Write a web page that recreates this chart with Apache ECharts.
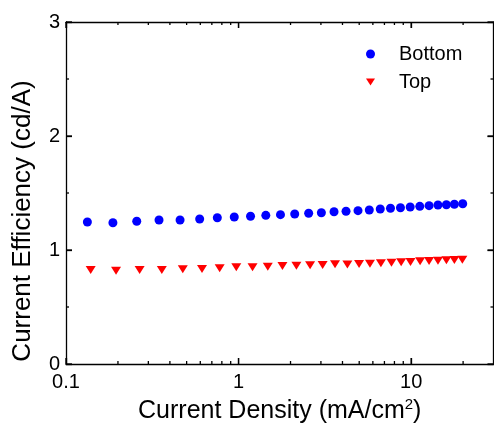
<!DOCTYPE html>
<html><head><meta charset="utf-8">
<script src="https://cdn.jsdelivr.net/npm/echarts@6/dist/echarts.min.js"></script>
<style>html,body{margin:0;padding:0;background:#fff}#c{width:494px;height:429px}</style>
</head><body><div id="c"></div>
<script>
// Current density (mA/cm2) and current efficiency (cd/A)
const bottomX = [0.133,0.187,0.257,0.346,0.458,0.595,0.753,0.944,1.173,1.438,1.749,2.115,2.547,3.018,3.574,4.194,4.92,5.72,6.62,7.59,8.67,9.87,11.22,12.7,14.3,16.0,17.8,19.9];
const bottomY = [1.246,1.239,1.252,1.263,1.263,1.272,1.283,1.289,1.296,1.304,1.310,1.316,1.322,1.327,1.336,1.340,1.345,1.351,1.360,1.366,1.371,1.377,1.383,1.389,1.395,1.397,1.401,1.406];
const topX = [0.139,0.195,0.267,0.359,0.475,0.614,0.777,0.970,1.205,1.476,1.795,2.163,2.596,3.07,3.62,4.27,4.99,5.77,6.68,7.69,8.75,9.91,11.27,12.7,14.3,16.0,17.8,19.8];
const topY = [0.825,0.818,0.825,0.825,0.831,0.833,0.839,0.848,0.848,0.854,0.860,0.862,0.866,0.868,0.875,0.873,0.877,0.880,0.883,0.889,0.892,0.895,0.901,0.904,0.906,0.910,0.912,0.915];
const seriesNames = ['Bottom', 'Top'];
const xRange = [0.1, 30];
const yRange = [0, 3];
const xMajorTicks = [0.1, 1, 10];
const xMinorTicks = [0.2,0.3,0.4,0.5,0.6,0.7,0.8,0.9,2,3,4,5,6,7,8,9,20];
const yMajorTicks = [0, 1, 2, 3];
const yMinorTicks = [0.5, 1.5, 2.5];
const xTitle = 'Current Density (mA/cm{sup|2})';
const yTitle = 'Current Efficiency (cd/A)';

const FONT = 'Liberation Sans';
const MAJOR = 6, MINOR = 3;
const chart = echarts.init(document.getElementById('c'));
function ls() { return {color: '#000', width: 1.3}; }
const xBase = {type: 'log', logBase: 10, min: xRange[0], max: xRange[1], splitLine: {show: false}};
const yBase = {type: 'value', min: yRange[0], max: yRange[1], interval: 1, splitLine: {show: false}};
function lineAxis(base, pos, ticks) {
  const t = {show: true, inside: true, length: MAJOR, lineStyle: ls()};
  if (ticks) t.customValues = ticks;
  return Object.assign({}, base, {position: pos, axisLine: {show: true, onZero: false, lineStyle: ls()},
    axisTick: t, axisLabel: {show: false}});
}
const xAxes = [
  Object.assign(lineAxis(xBase, 'bottom', xMajorTicks), {
    axisLabel: {show: true, customValues: xMajorTicks, fontFamily: FONT, fontSize: 20, color: '#000', margin: 8,
      formatter: v => String(+Number(v).toPrecision(3))},
    name: xTitle, nameLocation: 'middle', nameGap: 33,
    nameTextStyle: {fontFamily: FONT, fontSize: 25, color: '#000',
      rich: {sup: {fontFamily: FONT, fontSize: 15, color: '#000', padding: [0, 0, 13, 0]}}}
  }),
  lineAxis(xBase, 'top', xMajorTicks)
];
const yAxes = [
  Object.assign(lineAxis(yBase, 'left'), {
    axisLabel: {show: true, fontFamily: FONT, fontSize: 20, color: '#000', margin: 6},
    name: yTitle, nameLocation: 'middle', nameGap: 30,
    nameTextStyle: {fontFamily: FONT, fontSize: 26, color: '#000', padding: [0, 56, 0, 0]}
  }),
  lineAxis(yBase, 'right')
];

// tick rows: [x, y, length, kind] kind 0 = x-axis tick, 1 = y-axis tick
const tickRows = [].concat(
  xMajorTicks.map(v => [v, yRange[0], MAJOR, 0]),
  xMinorTicks.map(v => [v, yRange[0], MINOR, 0]),
  yMajorTicks.map(v => [xRange[0], v, MAJOR, 1]),
  yMinorTicks.map(v => [xRange[0], v, MINOR, 1])
);

chart.setOption({
  animation: false,
  grid: {left: 66, right: 0.5, top: 22, bottom: 65},
  legend: {
    orient: 'vertical', left: 361, top: 39,
    itemWidth: 9, itemHeight: 9, itemGap: 8,
    textStyle: {fontFamily: FONT, fontSize: 20, color: '#000', padding: [0, 0, 0, 19]},
    data: [
      {name: seriesNames[0], icon: 'circle'},
      {name: seriesNames[1], icon: 'path://M0,0L10,0L5,8Z'}
    ]
  },
  xAxis: xAxes,
  yAxis: yAxes,
  series: [
    {name: seriesNames[0], type: 'scatter', symbol: 'circle', symbolSize: 9,
     itemStyle: {color: '#0000ff', opacity: 1}, data: bottomX.map((x, i) => [x, bottomY[i]])},
    {name: seriesNames[1], type: 'scatter', symbol: 'triangle', symbolSize: [10, 8], symbolRotate: 180,
     itemStyle: {color: '#ff0000', opacity: 1}, data: topX.map((x, i) => [x, topY[i]])},
    {name: 'ticks', type: 'custom', silent: true, z: 10, clip: false, xAxisIndex: 0, yAxisIndex: 0,
     dimensions: ['x', 'y', 'len', 'kind'], encode: {x: 0, y: 1},
     data: tickRows,
     renderItem: function (params, api) {
       const len = api.value(2), kind = api.value(3);
       const lo = api.coord([xRange[0], yRange[0]]);
       const hi = api.coord([xRange[1], yRange[1]]);
       const p = api.coord([api.value(0), api.value(1)]);
       const st = {stroke: '#000', lineWidth: 1.3};
       if (kind === 0) {
         return {type: 'group', children: [
           {type: 'line', shape: {x1: p[0], y1: lo[1], x2: p[0], y2: lo[1] - len}, style: st},
           {type: 'line', shape: {x1: p[0], y1: hi[1], x2: p[0], y2: hi[1] + len}, style: st}
         ]};
       }
       return {type: 'group', children: [
         {type: 'line', shape: {x1: lo[0], y1: p[1], x2: lo[0] + len, y2: p[1]}, style: st},
         {type: 'line', shape: {x1: hi[0], y1: p[1], x2: hi[0] - len, y2: p[1]}, style: st}
       ]};
     }}
  ]
});
</script></body></html>
